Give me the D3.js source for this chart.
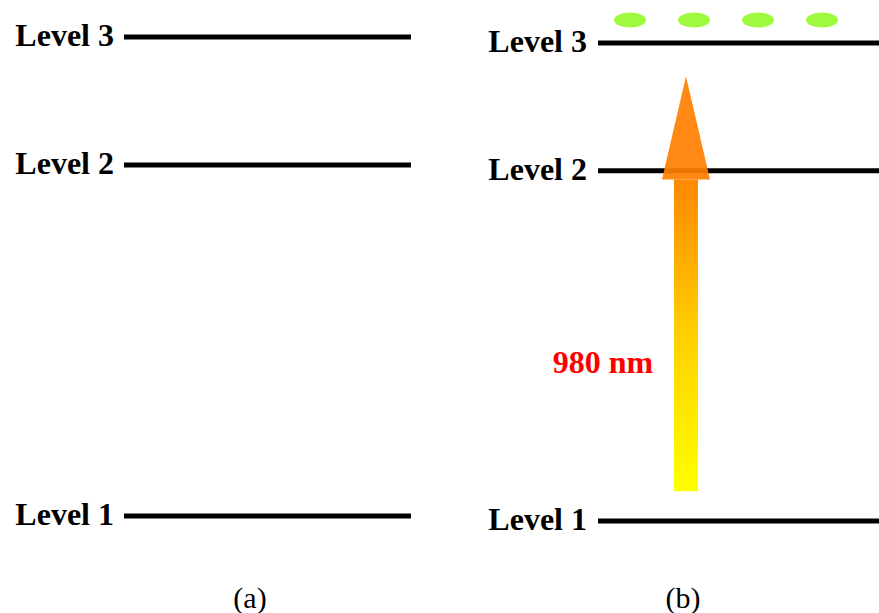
<!DOCTYPE html>
<html><head><meta charset="utf-8">
<script src="https://cdn.jsdelivr.net/npm/d3@7"></script>
<style>body{margin:0;background:#fff}</style>
</head><body>
<svg id="c" width="879" height="613"></svg>
<script>
// Data
const levelNames = ["Level 1", "Level 2", "Level 3"];
const levelEnergies = [0, 1.0, 1.365];
const panels = ["(a)", "(b)"];
const pumpLabel = "980 nm";
const pumpFrom = 0.085, pumpHeadBase = 0.975, pumpTip = 1.27;
const populationDots = [0, 1, 2, 3];

const FONT = "'Liberation Serif', 'Times New Roman', serif";
const svg = d3.select("#c");
const defs = svg.append("defs");
const grad = defs.append("linearGradient").attr("id","pump").attr("x1",0).attr("y1",1).attr("x2",0).attr("y2",0);
grad.append("stop").attr("offset","0%").attr("stop-color","#ffff00");
grad.append("stop").attr("offset","50%").attr("stop-color","#ffd000");
grad.append("stop").attr("offset","100%").attr("stop-color","#ff8800");

const layout = [
  {x0:124, x1:411, yr:[516,37], labelX:114, capX:250, capY:608},
  {x0:598, x1:879, yr:[521,43], labelX:587, capX:683, capY:608}
];

layout.forEach((L, i) => {
  const y = d3.scaleLinear().domain([0, levelEnergies[2]]).range(L.yr);
  const g = svg.append("g");
  g.selectAll("line.lv").data(levelEnergies).join("line")
    .attr("x1", L.x0).attr("x2", L.x1)
    .attr("y1", d => y(d)).attr("y2", d => y(d))
    .attr("stroke", "#000").attr("stroke-width", 5);
  g.selectAll("text.lv").data(levelEnergies).join("text")
    .attr("x", L.labelX).attr("y", d => y(d) + 9)
    .attr("text-anchor", "end")
    .attr("font-family", FONT)
    .attr("font-weight", "bold").attr("font-size", 32)
    .text((d, k) => levelNames[k]);
  g.append("text").attr("x", L.capX).attr("y", L.capY)
    .attr("text-anchor", "middle")
    .attr("font-family", FONT)
    .attr("font-size", 30).text(panels[i]);

  if (i === 1) {
    const ax = d3.scaleLinear().domain([0, 3]).range([630, 822]);
    g.selectAll("ellipse").data(populationDots).join("ellipse")
      .attr("cx", d => ax(d)).attr("cy", y(levelEnergies[2]) - 23)
      .attr("rx", 16).attr("ry", 7.5).attr("fill", "#9dfa3c");
    const cx = 686;
    const shaft = 12, head = 24;
    g.append("rect").attr("x", cx - shaft).attr("width", shaft*2)
      .attr("y", y(pumpHeadBase)).attr("height", y(pumpFrom) - y(pumpHeadBase))
      .attr("fill", "url(#pump)");
    g.append("path")
      .attr("d", `M${cx-head},${y(pumpHeadBase)} L${cx},${y(pumpTip)} L${cx+head},${y(pumpHeadBase)} Z`)
      .attr("fill", "#ff7f00").attr("fill-opacity", 0.92);
    g.append("text").attr("x", 603).attr("y", y(0.42) - 1)
      .attr("text-anchor", "middle")
      .attr("font-family", FONT)
      .attr("font-weight", "bold").attr("font-size", 32)
      .attr("fill", "#ff0000").text(pumpLabel);
  }
});
</script>
</body></html>
